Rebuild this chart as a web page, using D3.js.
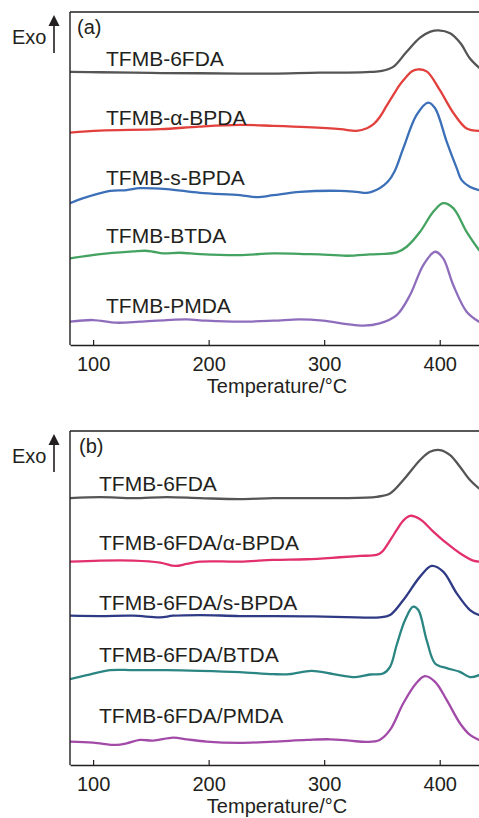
<!DOCTYPE html>
<html>
<head>
<meta charset="utf-8">
<script src="https://cdn.jsdelivr.net/npm/d3@7"></script>
<style>
  html, body { margin: 0; padding: 0; background: #fff; }
  svg { display: block; }
  text { font-family: "Liberation Sans", Arial, Helvetica, sans-serif; fill: #231f20; }
</style>
</head>
<body>
<svg id="chart" width="479" height="818"></svg>
<script>
// ---------- DATA (temperature °C, heat flow in arbitrary stacked units) ----------
const tickValues = [100, 200, 300, 400];
const xTitle = "Temperature/\u00B0C";
const panelTags = ["(a)", "(b)"];

const namesA = ["TFMB-6FDA", "TFMB-\u03B1-BPDA", "TFMB-s-BPDA", "TFMB-BTDA", "TFMB-PMDA"];
const namesB = ["TFMB-6FDA", "TFMB-6FDA/\u03B1-BPDA", "TFMB-6FDA/s-BPDA", "TFMB-6FDA/BTDA", "TFMB-6FDA/PMDA"];
const colorsA = ["#555555", "#e2403d", "#3b6fb8", "#44a361", "#8f6dbd"];
const colorsB = ["#555555", "#e2306f", "#2f3a85", "#2b8683", "#a24aa8"];

const a_6FDA = [[80,8.20],[106,8.19],[150,8.17],[192,8.16],[227,8.15],[256,8.15],[296,8.18],[320,8.18],[340,8.20],[350,8.23],[360,8.36],[371,8.79],[383,9.23],[392,9.41],[399,9.45],[409,9.36],[418,9.06],[426,8.61],[434,8.33]];
const a_aBPDA = [[80,6.38],[106,6.44],[158,6.48],[192,6.56],[227,6.61],[256,6.58],[285,6.54],[314,6.48],[328,6.43],[337,6.51],[343,6.64],[348,6.84],[354,7.18],[360,7.52],[366,7.84],[371,8.05],[376,8.22],[381.5,8.28],[389,8.21],[400,7.66],[412,6.96],[423,6.51],[434,6.43]];
const a_sBPDA = [[80,4.26],[91.5,4.41],[114.6,4.63],[129,4.65],[140.6,4.71],[163.7,4.68],[192.5,4.57],[227,4.50],[241.6,4.44],[256,4.50],[279,4.60],[314,4.63],[328,4.60],[337,4.57],[348,4.71],[355,4.90],[361,5.22],[368.5,5.91],[380,6.91],[390,7.28],[396,7.11],[406,6.11],[414.7,5.31],[419,4.95],[426,4.75],[434,4.65]];
const a_BTDA = [[80,2.60],[106,2.73],[134.8,2.81],[145,2.83],[152,2.80],[160.7,2.75],[175,2.77],[192.5,2.73],[226,2.70],[256,2.75],[285,2.73],[296,2.72],[319.5,2.68],[339.6,2.72],[362.8,2.78],[371.4,2.95],[383,3.40],[394.4,4.00],[403,4.26],[411.7,4.11],[423.3,3.40],[434,2.85]];
const a_PMDA = [[80,0.70],[100,0.75],[120,0.67],[140.6,0.70],[163.7,0.75],[181,0.77],[198,0.73],[227,0.70],[256,0.73],[279,0.77],[299,0.73],[319.5,0.63],[334,0.58],[348,0.65],[362.8,0.90],[374.3,1.50],[385.8,2.40],[396,2.80],[403,2.60],[411.7,1.80],[423.3,1.00],[434,0.70]];

const b_6FDA = [[80,7.99],[106,8.02],[134.8,7.99],[163.7,8.02],[192.5,7.99],[227,7.96],[256,7.99],[285,7.99],[313.7,7.99],[345.4,8.03],[357,8.13],[368.5,8.53],[383,9.13],[391.6,9.38],[400.2,9.43],[409,9.28],[417.5,8.93],[426.2,8.53],[434,8.28]];
const b_aBPDA = [[80,6.09],[106,6.12],[134.8,6.12],[158,6.06],[171,5.96],[181,6.02],[192.5,6.09],[227,6.09],[256,6.14],[285,6.16],[313.7,6.22],[331,6.26],[345.4,6.29],[350,6.38],[358,6.78],[362.8,7.04],[368,7.30],[374.3,7.46],[383,7.36],[394.4,6.99],[406,6.64],[417.5,6.34],[429,6.12],[434,6.09]];
const b_sBPDA = [[80,4.47],[106,4.46],[134.8,4.47],[158,4.42],[169.4,4.47],[192.5,4.49],[227,4.46],[285,4.45],[328,4.42],[348,4.42],[357,4.49],[368.5,4.94],[383,5.64],[393,5.96],[403,5.79],[414.7,5.14],[426.2,4.64],[434,4.49]];
const b_BTDA = [[80,2.57],[94.5,2.69],[114.6,2.84],[134.8,2.84],[163.7,2.84],[192.5,2.82],[227,2.78],[256,2.72],[270,2.72],[289,2.82],[308,2.72],[327,2.63],[339.6,2.71],[351,2.74],[357,2.94],[362.8,3.60],[370,4.34],[377,4.74],[381.5,4.64],[388.7,3.74],[396,3.04],[406,2.90],[417.5,2.79],[426.2,2.63],[434,2.69]];
const b_PMDA = [[80,0.70],[100,0.67],[120.4,0.60],[129,0.65],[140.6,0.75],[152,0.73],[169.4,0.82],[181,0.77],[198,0.70],[226,0.66],[256,0.70],[285,0.75],[305,0.77],[322,0.73],[337,0.69],[348,0.75],[357,1.05],[368.5,1.85],[380,2.46],[387.2,2.66],[396,2.49],[406,1.95],[417.5,1.25],[426.2,0.90],[434,0.75]];

const seriesA = [a_6FDA, a_aBPDA, a_sBPDA, a_BTDA, a_PMDA];
const seriesB = [b_6FDA, b_aBPDA, b_sBPDA, b_BTDA, b_PMDA];

// ---------- LAYOUT ----------
const svg = d3.select("#chart");
const ink = "#231f20";
const panels = [
  { top: 12, bottom: 345, names: namesA, colors: colorsA, series: seriesA, tag: panelTags[0],
    labelX: 106, labelBase: [65.7, 125, 185, 243.3, 312.7], tagX: 77 },
  { top: 431, bottom: 765, names: namesB, colors: colorsB, series: seriesB, tag: panelTags[1],
    labelX: 99, labelBase: [491, 550, 610, 661.7, 723.3], tagX: 79 }
];
const left = 70, right = 479;

panels.forEach((p, i) => {
  const g = svg.append("g");
  const x = d3.scaleLinear().domain([80, 434]).range([left, right]);
  const y = d3.scaleLinear().domain([0, 10]).range([p.bottom, p.top]);

  const clipId = "clip" + i;
  svg.append("clipPath").attr("id", clipId)
    .append("rect").attr("x", left).attr("y", p.top).attr("width", right - left).attr("height", p.bottom - p.top);

  const line = d3.line().x(d => x(d[0])).y(d => y(d[1])).curve(d3.curveCatmullRom.alpha(0.5));

  g.append("g").attr("clip-path", `url(#${clipId})`)
    .selectAll("path").data(p.series).join("path")
    .attr("d", line)
    .attr("fill", "none")
    .attr("stroke", (d, k) => p.colors[k])
    .attr("stroke-width", 2.3)
    .attr("stroke-linejoin", "round")
    .attr("stroke-linecap", "round");

  // frame: top and left
  g.append("line").attr("x1", left).attr("x2", right).attr("y1", p.top).attr("y2", p.top)
    .attr("stroke", ink).attr("stroke-width", 1.4);
  g.append("line").attr("x1", left).attr("x2", left).attr("y1", p.top).attr("y2", p.bottom)
    .attr("stroke", ink).attr("stroke-width", 1.4);

  // bottom axis
  const ax = g.append("g").attr("transform", `translate(0,${p.bottom})`)
    .call(d3.axisBottom(x).tickValues(tickValues).tickFormat(d3.format("d"))
      .tickSizeInner(-5).tickSizeOuter(0).tickPadding(12));
  ax.select(".domain").attr("stroke", ink).attr("stroke-width", 1.4);
  ax.selectAll(".tick line").attr("stroke", ink).attr("stroke-width", 1.2);
  ax.selectAll(".tick text").attr("font-size", 20).style("font-family", '"Liberation Sans", Arial, sans-serif').attr("fill", ink);

  g.append("text").attr("x", 277).attr("y", p.bottom + 47.5).attr("text-anchor", "middle")
    .attr("font-size", 20).text(xTitle);

  // curve labels
  g.selectAll("text.lbl").data(p.names).join("text").attr("class", "lbl")
    .attr("x", p.labelX).attr("y", (d, k) => p.labelBase[k])
    .attr("font-size", 21).text(d => d);

  // panel tag
  g.append("text").attr("x", p.tagX).attr("y", p.top + 21.5).attr("font-size", 20).text(p.tag);

  // Exo arrow
  g.append("text").attr("x", 12).attr("y", p.top + 31.8).attr("font-size", 20).text("Exo");
  g.append("line").attr("x1", 54).attr("x2", 54).attr("y1", p.top + 12).attr("y2", p.top + 41)
    .attr("stroke", ink).attr("stroke-width", 1.6);
  g.append("path")
    .attr("d", `M54,${p.top + 3} L59.5,${p.top + 14} L48.5,${p.top + 14} Z`)
    .attr("fill", ink);
});
</script>
</body>
</html>
